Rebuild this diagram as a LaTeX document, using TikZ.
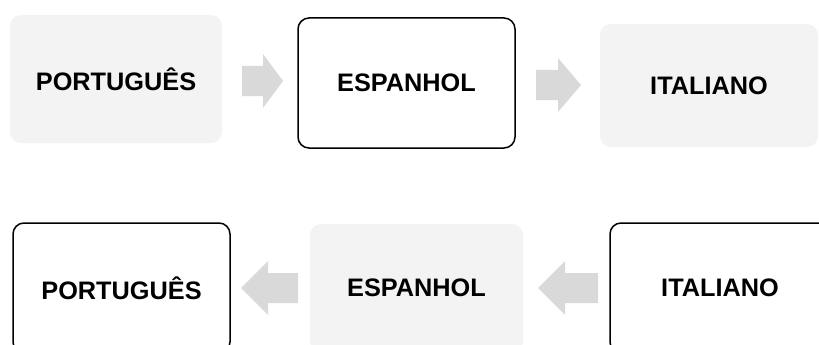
\documentclass[tikz,border=0pt]{standalone}
\usepackage{fontspec}
\setmainfont{Liberation Sans}
\definecolor{boxgray}{HTML}{F3F3F3}
\definecolor{arrowgray}{HTML}{D9D9D9}
% block arrow: tail x, tip x, centre y, head length (sign gives direction)
\newcommand{\blockarrow}[4]{%
  \fill[arrowgray] (#1,{#3-15}) -- ({#2-#4},{#3-15}) -- ({#2-#4},{#3-27})
    -- (#2,#3) -- ({#2-#4},{#3+27}) -- ({#2-#4},{#3+15}) -- (#1,{#3+15}) -- cycle;}
\begin{document}
\begin{tikzpicture}[x=1pt,y=-1pt,
  lang/.style={rounded corners=11pt, minimum width=#1, font=\fontsize{25.3}{29}\selectfont\bfseries, inner sep=0pt},
  soft/.style={lang=#1, fill=boxgray, draw=none},
  framed/.style={lang=#1, fill=white, draw=black, line width=1.5pt}]
\useasboundingbox (0,0) rectangle (819,345);
\clip (0,0) rectangle (819,345);
% upper row, left to right
\node[soft=212pt, minimum height=128pt] (pt1) at (116,79) {PORTUGUÊS};
\node[framed=217pt, minimum height=130pt] (es1) at (406.5,83) {ESPANHOL};
\node[soft=218pt, minimum height=123pt] (it1) at (709,85.5) {ITALIANO};
\blockarrow{242}{283}{81}{20}
\blockarrow{536}{581}{85}{23}
% lower row, right to left
\node[framed=217pt, minimum height=130pt] (pt2) at (121.5,288) {PORTUGUÊS};
\node[soft=213pt, minimum height=128pt] (es2) at (416.5,288) {ESPANHOL};
\node[framed=220pt, minimum height=130pt] (it2) at (720,288) {ITALIANO};
\blockarrow{298}{241}{288}{-27}
\blockarrow{598}{538}{288}{-27}
\end{tikzpicture}
\end{document}
